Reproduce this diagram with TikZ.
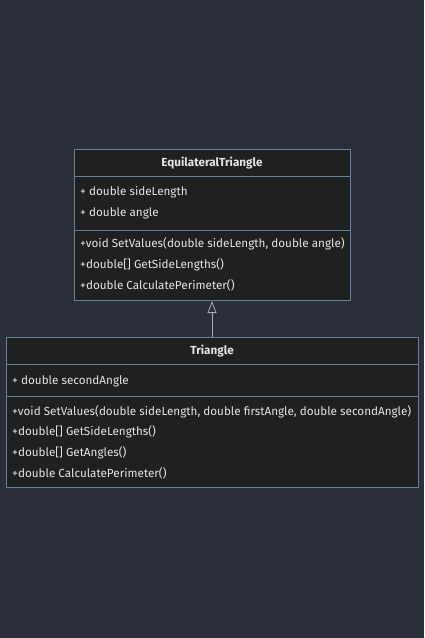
\documentclass[tikz,border=0pt]{standalone}
\usepackage{fontspec}
\setmainfont{Fira Sans}
\usetikzlibrary{arrows.meta}
\definecolor{bgc}{RGB}{42,47,58}
\definecolor{boxfill}{RGB}{31,32,32}
\definecolor{boxline}{RGB}{100,128,158}
\definecolor{txt}{RGB}{228,228,228}
\definecolor{arrc}{RGB}{170,170,170}
\tikzset{
  umlbox/.style={draw=boxline, fill=boxfill, line width=0.9pt},
  divline/.style={draw=boxline, line width=0.9pt},
  title/.style={text=txt, font=\fontsize{11.7}{13}\selectfont\bfseries, inner sep=0pt},
  member/.style={text=txt, font=\fontsize{11.7}{13}\selectfont, anchor=west, inner sep=0pt},
  inherit/.style={draw=arrc, line width=0.8pt, -{Triangle[open, length=12pt, width=9pt]}}
}
\begin{document}
\begin{tikzpicture}[x=1pt, y=-1pt]
\fill[bgc] (0,0) rectangle (424,638);
\useasboundingbox (0,0) rectangle (424,638);
% EquilateralTriangle
\draw[umlbox] (74,149) rectangle (350,300);
\coordinate (eqbot) at (212,300);
\draw[divline] (74,176) -- (350,176);
\draw[divline] (74,230) -- (350,230);
\node[title] (eqt) at (212,163) {EquilateralTriangle};
\node[member] (ea1) at (80,192.5) {+ double sideLength};
\node[member] (ea2) at (80,213.5) {+ double angle};
\node[member] (em1) at (80,243.5) {+void SetValues(double sideLength, double angle)};
\node[member] (em2) at (80,264.5) {+double[] GetSideLengths()};
\node[member] (em3) at (80,285.5) {+double CalculatePerimeter()};
% Triangle
\draw[umlbox] (6,337) rectangle (418,487);
\coordinate (trtop) at (212,337);
\draw[divline] (6,364) -- (418,364);
\draw[divline] (6,396) -- (418,396);
\node[title] (trt) at (212,351) {Triangle};
\node[member] (ta1) at (12,381.5) {+ double secondAngle};
\node[member] (tm1) at (12,411.5) {+void SetValues(double sideLength, double firstAngle, double secondAngle)};
\node[member] (tm2) at (12,431.5) {+double[] GetSideLengths()};
\node[member] (tm3) at (12,452.5) {+double[] GetAngles()};
\node[member] (tm4) at (12,473.5) {+double CalculatePerimeter()};
\draw[inherit] (trtop) -- ([yshift=-1pt]eqbot);
\end{tikzpicture}
\end{document}
